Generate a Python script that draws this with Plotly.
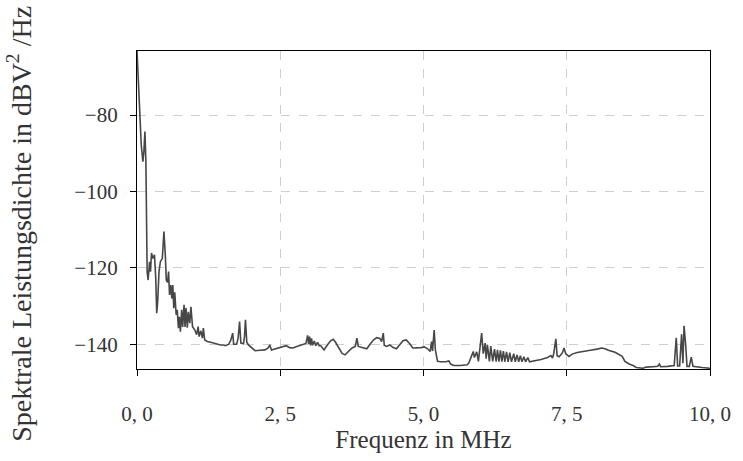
import plotly.graph_objects as go

# Frequency in MHz
freq_mhz = [
    0.000, 0.017, 0.052, 0.074, 0.103, 0.120, 0.138, 0.155, 0.177, 0.194,
    0.219, 0.236, 0.253, 0.275, 0.305, 0.327, 0.344, 0.361, 0.384, 0.408,
    0.442, 0.470, 0.494, 0.511, 0.534, 0.551, 0.568, 0.590, 0.608, 0.625,
    0.642, 0.659, 0.683, 0.702, 0.723, 0.740, 0.757, 0.780, 0.797, 0.821,
    0.838, 0.855, 0.878, 0.895, 0.921, 0.941, 0.969, 1.010, 1.041, 1.067,
    1.084, 1.114, 1.141, 1.158, 1.182, 1.227, 1.286, 1.343, 1.399, 1.458,
    1.515, 1.544, 1.601, 1.635, 1.670, 1.687, 1.738, 1.764, 1.790, 1.813,
    1.859, 1.876, 1.893, 1.916, 1.945, 2.002, 2.060, 2.146, 2.232, 2.289,
    2.318, 2.346, 2.461, 2.547, 2.604, 2.663, 2.719, 2.776, 2.835, 2.892,
    2.948, 2.978, 2.995, 3.012, 3.029, 3.046, 3.064, 3.093, 3.120, 3.150,
    3.179, 3.207, 3.236, 3.265, 3.322, 3.379, 3.425, 3.465, 3.523, 3.580,
    3.631, 3.695, 3.752, 3.809, 3.838, 3.861, 3.924, 4.010, 4.067, 4.126,
    4.182, 4.239, 4.269, 4.298, 4.315, 4.355, 4.412, 4.470, 4.527, 4.584,
    4.642, 4.699, 4.756, 4.814, 4.871, 4.957, 5.014, 5.072, 5.117, 5.141,
    5.158, 5.186, 5.207, 5.245, 5.301, 5.387, 5.444, 5.473, 5.530, 5.645,
    5.761, 5.788, 5.846, 5.869, 5.889, 5.929, 5.958, 5.986, 6.015, 6.043,
    6.076, 6.093, 6.115, 6.150, 6.174, 6.208, 6.239, 6.268, 6.291, 6.317,
    6.343, 6.368, 6.394, 6.420, 6.449, 6.477, 6.506, 6.535, 6.575, 6.601,
    6.632, 6.661, 6.690, 6.718, 6.752, 6.781, 6.821, 6.850, 6.936, 7.052,
    7.165, 7.223, 7.251, 7.272, 7.310, 7.332, 7.367, 7.423, 7.453, 7.482,
    7.539, 7.596, 7.682, 7.797, 7.912, 8.026, 8.112, 8.170, 8.227, 8.342,
    8.429, 8.468, 8.515, 8.589, 8.657, 8.714, 8.830, 8.886, 9.002, 9.088,
    9.117, 9.139, 9.260, 9.375, 9.411, 9.435, 9.470, 9.504, 9.527, 9.547,
    9.575, 9.599, 9.639, 9.673, 9.702, 9.776, 9.862, 10.000,
]

# Power spectral density in dBV^2/Hz
psd_db = [
    -63.2, -70.0, -79.1, -87.8, -92.2, -89.6, -84.3, -92.0, -121.0, -123.2,
    -118.4, -121.0, -116.1, -117.5, -116.6, -122.7, -131.9, -128.8, -121.0, -118.4,
    -117.5, -110.5, -116.6, -123.2, -123.8, -121.0, -127.1, -124.5, -128.0, -124.5,
    -130.6, -126.4, -132.3, -131.0, -135.8, -132.8, -136.7, -131.0, -135.5, -129.7,
    -135.5, -130.5, -135.7, -131.5, -134.5, -130.2, -135.4, -136.3, -137.5, -135.4,
    -138.0, -136.5, -138.4, -135.8, -138.9, -139.3, -139.5, -139.7, -140.0, -140.2,
    -140.2, -140.4, -140.0, -139.0, -137.1, -140.0, -140.0, -138.5, -134.1, -139.7,
    -139.9, -138.0, -133.6, -139.5, -140.2, -141.0, -141.7, -141.6, -141.5, -141.0,
    -140.2, -141.5, -141.0, -140.6, -140.4, -140.9, -141.0, -140.7, -140.4, -140.0,
    -139.8, -137.7, -140.0, -138.0, -140.3, -138.5, -140.3, -139.2, -140.4, -139.5,
    -140.4, -140.4, -141.0, -141.5, -140.2, -139.1, -138.7, -139.5, -141.0, -142.4,
    -142.8, -141.9, -141.0, -140.6, -138.4, -140.6, -140.9, -141.2, -140.0, -138.9,
    -138.3, -138.5, -139.3, -137.1, -140.3, -140.6, -140.2, -140.9, -141.2, -140.2,
    -139.1, -138.9, -139.8, -141.0, -141.0, -140.9, -140.7, -141.2, -141.9, -139.3,
    -141.8, -136.3, -141.5, -144.5, -144.6, -144.6, -144.4, -145.2, -145.6, -145.6,
    -145.4, -145.0, -142.8, -141.9, -143.5, -142.0, -144.5, -141.5, -137.1, -142.5,
    -139.7, -143.8, -140.2, -144.5, -140.5, -144.5, -141.3, -144.6, -141.5, -144.6,
    -141.6, -144.6, -141.8, -144.6, -142.0, -144.6, -142.2, -144.6, -142.5, -144.6,
    -142.8, -144.6, -143.0, -144.6, -143.3, -144.6, -143.5, -144.6, -144.4, -144.0,
    -143.5, -143.0, -143.6, -142.5, -138.6, -143.0, -143.3, -142.3, -141.0, -142.5,
    -143.2, -142.6, -142.2, -141.8, -141.6, -141.3, -141.0, -141.2, -141.6, -142.1,
    -142.8, -143.2, -144.5, -145.2, -145.6, -146.1, -146.3, -146.0, -145.9, -145.8,
    -145.2, -145.9, -145.8, -145.6, -138.3, -145.7, -145.7, -137.4, -145.0, -135.2,
    -140.0, -145.8, -145.8, -143.4, -145.8, -146.0, -146.1, -146.3,
]

x_tick_vals = [0, 2.5, 5, 7.5, 10]
x_tick_text = ["0, 0", "2, 5", "5, 0", "7, 5", "10, 0"]
y_tick_vals = [-80, -100, -120, -140]

FONT = "Liberation Serif"
TXT = "#333333"

fig = go.Figure()
fig.add_trace(go.Scatter(
    x=freq_mhz, y=psd_db, mode="lines",
    line=dict(color="#474747", width=1.6),
    showlegend=False,
))

axis_common = dict(
    showline=True, linecolor="#000000", linewidth=1.3, mirror=True,
    ticks="outside", ticklen=6, tickwidth=1.2, tickcolor="#000000",
    showgrid=True, gridcolor="#cfcfcf", griddash="dash", gridwidth=1,
    zeroline=False,
    tickfont=dict(family=FONT, size=21, color=TXT),
)

fig.update_layout(
    width=743, height=461,
    margin=dict(l=137, r=26, t=51, b=92),
    paper_bgcolor="white", plot_bgcolor="white",
    font=dict(family=FONT, size=21, color=TXT),
    xaxis=dict(
        range=[0, 10], tickvals=x_tick_vals, ticktext=x_tick_text,
        ticklabelstandoff=20,
        title=dict(text="Frequenz in MHz", font=dict(family=FONT, size=25, color=TXT), standoff=2),
        **axis_common,
    ),
    yaxis=dict(
        range=[-146.5, -63.2], tickvals=y_tick_vals,
        ticklabelstandoff=8,
        **axis_common,
    ),
    annotations=[dict(
        text="Spektrale Leistungsdichte in dBV<sup>2</sup> /Hz",
        xref="paper", yref="paper", x=-0.205, y=0.455,
        xanchor="center", yanchor="middle", textangle=-90, showarrow=False,
        font=dict(family=FONT, size=28, color=TXT),
    )],
)

fig.write_html("out.html")
